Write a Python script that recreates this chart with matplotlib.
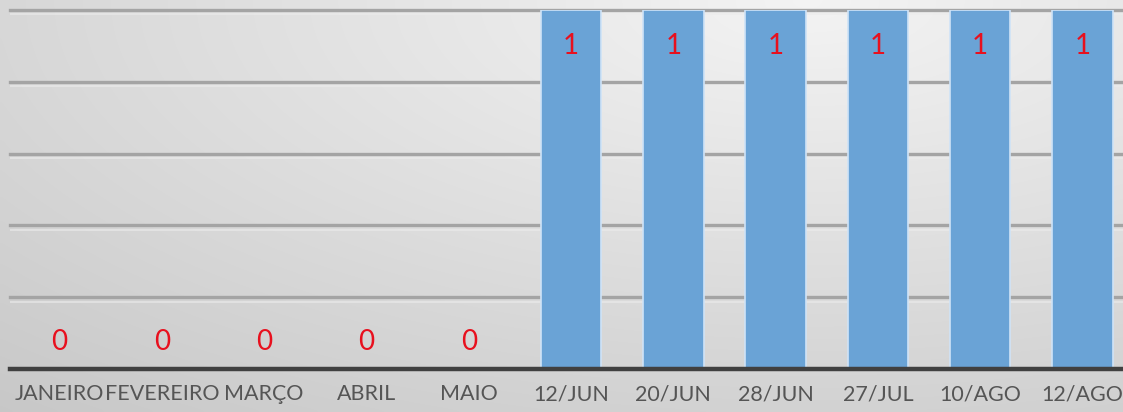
import matplotlib
matplotlib.use('Agg')
import matplotlib.pyplot as plt
import numpy as np

categories = ['JANEIRO', 'FEVEREIRO', 'MARÇO', 'ABRIL', 'MAIO',
              '12/JUN', '20/JUN', '28/JUN', '27/JUL', '10/AGO', '12/AGO']
values = [0, 0, 0, 0, 0, 1, 1, 1, 1, 1, 1]

plt.rcParams['font.family'] = ['Lato', 'DejaVu Sans']

W, H = 1123, 412
fig = plt.figure(figsize=(W / 100, H / 100), dpi=100)

# background gradient: lighter near the top middle, grayer at the sides and bottom
bg = fig.add_axes([0, 0, 1, 1])
xx, yy = np.meshgrid(np.linspace(0, 1, 300), np.linspace(0, 1, 120))
d = np.sqrt(((xx - 0.72) / 1.1) ** 2 + ((yy - 0.0) / 1.3) ** 2)
shade = 0.955 - 0.17 * d
bg.imshow(np.dstack([shade, shade, shade]), aspect='auto', extent=[0, 1, 0, 1],
          origin='upper', interpolation='bicubic')
bg.set_xlim(0, 1)
bg.set_ylim(0, 1)
bg.axis('off')

left = 10 / W
bottom = (H - 369) / H
top = (H - 10) / H
ax = fig.add_axes([left, bottom, 1 - left, top - bottom])
ax.patch.set_alpha(0)

x = np.arange(len(categories))
ax.set_xlim(-0.485, 10.396)
ax.set_ylim(0, 1.0)

for gy in [0.2, 0.4, 0.6, 0.8, 1.0]:
    ax.axhline(gy, color='#a4a4a4', lw=2.4, zorder=1, clip_on=False)
    ax.axhline(gy - 0.012, color='#ececec', lw=1.2, zorder=1, alpha=0.7)

bars = ax.bar(x, values, width=0.59, color='#6aa3d6', edgecolor='#cfe3f7',
              linewidth=1.2, zorder=2)

for xi, v in zip(x, values):
    if v > 0:
        ax.text(xi, v - 0.1, str(v), ha='center', va='center',
                color='#e8101e', fontsize=20, zorder=3)
    else:
        ax.text(xi, 0.075, str(v), ha='center', va='center',
                color='#e8101e', fontsize=20, zorder=3)

ax.axhline(0, color='#404040', lw=3.2, zorder=4, clip_on=False)

ax.set_xticks(x)
ax.set_xticklabels(categories, fontsize=15.5, color='#555555')
ax.tick_params(axis='x', length=0, pad=11)
ax.set_yticks([])
for s in ax.spines.values():
    s.set_visible(False)

fig.savefig('out.png', dpi=100)
